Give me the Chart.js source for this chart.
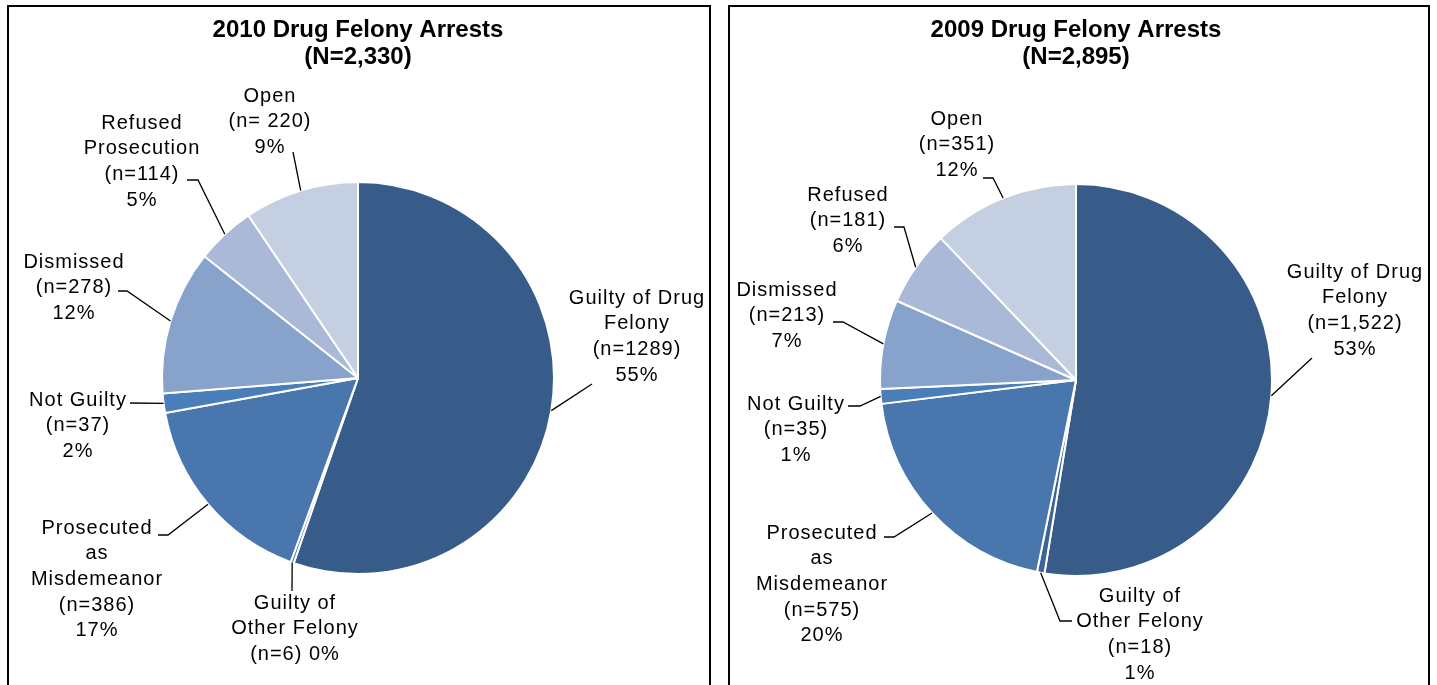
<!DOCTYPE html>
<html>
<head>
<meta charset="utf-8">
<title>Drug Felony Arrests</title>
<script src="https://cdn.jsdelivr.net/npm/chart.js@4.4.1/dist/chart.umd.min.js"></script>
<style>
    html, body { margin: 0; padding: 0; background: #fff; overflow: hidden; }
    body { width: 1437px; height: 685px; position: relative; }
    .panel { position: absolute; top: 5px; height: 700px; border: 2px solid #000; background: #fff; }
    #panel2010 { left: 7px; width: 700px; }
    #panel2009 { left: 728px; width: 698px; }
    canvas { position: absolute; left: 0; top: 0; }
</style>
</head>
<body>
<div class="panel" id="panel2010"><canvas id="pie2010" width="700" height="690"></canvas></div>
<div class="panel" id="panel2009"><canvas id="pie2009" width="698" height="690"></canvas></div>
<script>
// --- data ---
const categories = [
    "Guilty of Drug Felony",
    "Guilty of Other Felony",
    "Prosecuted as Misdemeanor",
    "Not Guilty",
    "Dismissed",
    "Refused Prosecution",
    "Open"
];
const counts2010 = [1289, 6, 386, 37, 278, 114, 220];
const counts2009 = [1522, 18, 575, 35, 213, 181, 351];

const labels2010 = [
    ["Guilty of Drug", "Felony", "(n=1289)", "55%"],
    ["Guilty of", "Other Felony", "(n=6) 0%"],
    ["Prosecuted", "as", "Misdemeanor", "(n=386)", "17%"],
    ["Not Guilty", "(n=37)", "2%"],
    ["Dismissed", "(n=278)", "12%"],
    ["Refused", "Prosecution", "(n=114)", "5%"],
    ["Open", "(n= 220)", "9%"]
];
const labels2009 = [
    ["Guilty of Drug", "Felony", "(n=1,522)", "53%"],
    ["Guilty of", "Other Felony", "(n=18)", "1%"],
    ["Prosecuted", "as", "Misdemeanor", "(n=575)", "20%"],
    ["Not Guilty", "(n=35)", "1%"],
    ["Dismissed", "(n=213)", "7%"],
    ["Refused", "(n=181)", "6%"],
    ["Open", "(n=351)", "12%"]
];

const sliceColors = ["#375C89", "#3D6497", "#4876AD", "#4A7EBB", "#87A2CB", "#A9B9D7", "#C4CFE2"];

// label placement, offsets from the pie centre (text block centre x, first line y, leader elbows)
const layout2010 = [
    { tx: 279, ty: -80, leader: [[234, 6]] },
    { tx: -63, ty: 225, leader: [[-66, 213]] },
    { tx: -261, ty: 150, leader: [[-190, 157], [-200, 157]] },
    { tx: -280, ty: 22, leader: [[-228, 25]] },
    { tx: -284, ty: -116, leader: [[-231, -87], [-240, -87]] },
    { tx: -216, ty: -255, leader: [[-160, -198], [-171, -198]] },
    { tx: -88, ty: -282, leader: [[-65, -226]] }
];
const layout2009 = [
    { tx: 279, ty: -108, leader: [[236, -22]] },
    { tx: 64, ty: 216, leader: [[-16, 241], [-4, 241]] },
    { tx: -254, ty: 153, leader: [[-182, 157], [-192, 157]] },
    { tx: -280, ty: 24, leader: [[-216, 26], [-228, 26]] },
    { tx: -289, ty: -90, leader: [[-233, -58], [-243, -58]] },
    { tx: -228, ty: -185, leader: [[-172, -153], [-182, -153]] },
    { tx: -119, ty: -261, leader: [[-83, -202], [-93, -202]] }
];

const FONT = "'Liberation Sans', Arial, sans-serif";

// Draws the data labels with their leader lines
const leaderLabels = {
    id: "leaderLabels",
    afterDatasetsDraw(chart, args, opts) {
        const ctx = chart.ctx;
        const arcs = chart.getDatasetMeta(0).data;
        ctx.save();
        arcs.forEach((arc, i) => {
            const { x, y, startAngle, endAngle, outerRadius } = arc.getProps(["x", "y", "startAngle", "endAngle", "outerRadius"], true);
            const mid = (startAngle + endAngle) / 2;
            const lay = opts.layout[i];

            // leader line from the middle of the slice edge
            ctx.strokeStyle = "#000";
            ctx.lineWidth = 1.3;
            ctx.beginPath();
            ctx.moveTo(x + Math.cos(mid) * outerRadius, y + Math.sin(mid) * outerRadius);
            lay.leader.forEach(p => ctx.lineTo(x + p[0], y + p[1]));
            ctx.stroke();

            // text lines
            ctx.fillStyle = "#000";
            ctx.font = "20px " + FONT;
            ctx.letterSpacing = "1px";
            ctx.textAlign = "center";
            ctx.textBaseline = "middle";
            opts.lines[i].forEach((line, k) => {
                ctx.fillText(line, x + lay.tx, y + lay.ty + k * 25.7);
            });
        });
        ctx.restore();
    }
};

function drawPie(canvasId, counts, lines, layout, title, pad) {
    const ctx = document.getElementById(canvasId).getContext("2d");
    return new Chart(ctx, {
        type: "pie",
        data: {
            labels: categories,
            datasets: [{
                data: counts,
                backgroundColor: sliceColors,
                borderColor: "#fff",
                borderWidth: 2
            }]
        },
        options: {
            responsive: false,
            animation: false,
            events: [],
            radius: 196,
            layout: { padding: pad },
            plugins: {
                legend: { display: false },
                tooltip: { enabled: false },
                title: {
                    display: true,
                    text: title,
                    color: "#000",
                    font: { family: FONT, size: 24, weight: "bold", lineHeight: 27 / 24 },
                    padding: { top: 10, bottom: 0 }
                },
                leaderLabels: { lines: lines, layout: layout }
            }
        },
        plugins: [leaderLabels]
    });
}

drawPie("pie2010", counts2010, labels2010, layout2010,
    ["2010 Drug Felony Arrests", "(N=2,330)"], { left: 0, right: 2, top: 0, bottom: 12 });
drawPie("pie2009", counts2009, labels2009, layout2009,
    ["2009 Drug Felony Arrests", "(N=2,895)"], { left: 0, right: 6, top: 0, bottom: 8 });
</script>
</body>
</html>
